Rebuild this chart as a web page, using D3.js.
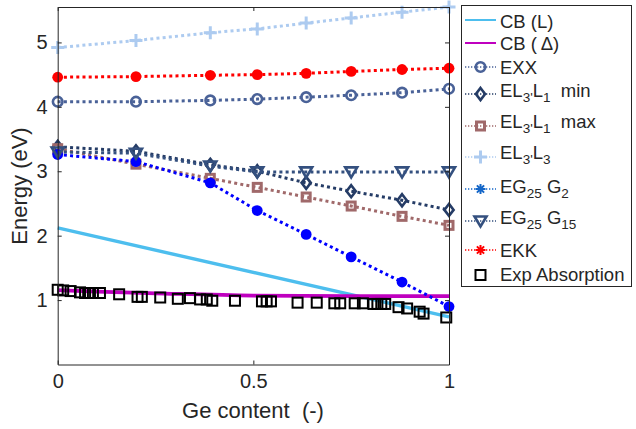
<!DOCTYPE html>
<html>
<head>
<meta charset="utf-8">
<script src="https://cdn.jsdelivr.net/npm/d3@7"></script>
<style>
  body { margin: 0; background: #fff; }
  text { font-family: "Liberation Sans", Arial, Helvetica, sans-serif; fill: #262626; }
</style>
</head>
<body>
<svg id="chart" width="636" height="429"></svg>
<script>
// Ge content of the computed points (SiGe alloy)
const geContent = [0, 0.2, 0.39, 0.51, 0.635, 0.75, 0.88, 1];

// Computed transition energies (eV)
const exx     = [4.08, 4.08, 4.10, 4.12, 4.15, 4.18, 4.22, 4.28];
const el3l1Min = [3.38, 3.31, 3.10, 3.00, 2.82, 2.69, 2.55, 2.40];
const el3l1Max = [3.35, 3.11, 2.89, 2.75, 2.60, 2.46, 2.30, 2.16];
const el3l3   = [4.92, 5.03, 5.15, 5.21, 5.30, 5.38, 5.47, 5.55];
const eg25g2  = [3.26, 3.15, 2.82, 2.39, 2.02, 1.67, 1.28, 0.90];
const eg25g15 = [3.30, 3.28, 3.08, 2.99, 2.99, 2.99, 2.99, 2.99];
const ekk     = [4.46, 4.47, 4.49, 4.50, 4.52, 4.55, 4.58, 4.60];

// Conduction band minima
const cbLx = [0, 1];
const cbLy = [2.12, 0.74];
const cbDx = [0, 0.1, 0.25, 0.5, 0.75, 1];
const cbDy = [1.155, 1.13, 1.105, 1.07, 1.062, 1.06];

// Measured absorption edge
const expX = [0.000, 0.014, 0.033, 0.057, 0.070, 0.078, 0.090, 0.108, 0.157, 0.204,
              0.215, 0.262, 0.307, 0.338, 0.364, 0.381, 0.395, 0.453, 0.522, 0.534,
              0.545, 0.613, 0.662, 0.707, 0.722, 0.759, 0.780, 0.807, 0.817, 0.827,
              0.837, 0.871, 0.893, 0.925, 0.935, 0.993];
const expY = [1.16, 1.15, 1.14, 1.12, 1.11, 1.11, 1.11, 1.11, 1.09, 1.05,
              1.05, 1.04, 1.02, 1.03, 1.01, 1.01, 0.99, 0.99, 0.98, 0.98,
              0.98, 0.96, 0.96, 0.95, 0.95, 0.95, 0.95, 0.94, 0.94, 0.94,
              0.94, 0.89, 0.87, 0.82, 0.79, 0.73];

// Axis ticks
const xTicks = [0, 0.5, 1];
const yTicks = [1, 2, 3, 4, 5];

const svg = d3.select("#chart");
const x = d3.scaleLinear().domain([0, 1]).range([57.7, 449]);
const y = d3.scaleLinear().domain([0, 5.55]).range([364.5, 7]);

const axisColor = "#262626";

// ---------- marker shapes ----------
function marker(g, type, color, cx, cy, legend) {
  const m = g.append("g").attr("transform", `translate(${cx},${cy})`);
  switch (type) {
    case "circle":
      m.append("circle").attr("r", 4.8).attr("fill", "none")
        .attr("stroke", color).attr("stroke-width", 2.6);
      break;
    case "diamond":
      m.append("path").attr("d", "M0,-6 L4.6,0 L0,6 L-4.6,0Z").attr("fill", "none")
        .attr("stroke", color).attr("stroke-width", 2.6).attr("stroke-linejoin", "miter");
      break;
    case "square":
      m.append("rect").attr("x", -4).attr("y", -4).attr("width", 8).attr("height", 8)
        .attr("fill", "none").attr("stroke", color).attr("stroke-width", 3);
      break;
    case "plus":
      m.append("path").attr("d", "M-6.5,0H6.5M0,-6.5V6.5").attr("fill", "none")
        .attr("stroke", color).attr("stroke-width", 3);
      break;
    case "tri":
      m.append("path").attr("d", "M-6,-4.5 L6,-4.5 L0,5.5Z").attr("fill", "none")
        .attr("stroke", color).attr("stroke-width", 2.6).attr("stroke-linejoin", "miter");
      break;
    case "star":
      if (legend) {
        m.append("path")
          .attr("d", "M-5,0H5M0,-5V5M-3.6,-3.6L3.6,3.6M-3.6,3.6L3.6,-3.6")
          .attr("fill", "none").attr("stroke", color).attr("stroke-width", 2);
      } else {
        m.append("circle").attr("r", 5.4).attr("fill", color);
      }
      break;
    case "open":
      m.append("rect").attr("x", -5).attr("y", -5).attr("width", 10).attr("height", 10)
        .attr("fill", "none").attr("stroke", "#000").attr("stroke-width", 2);
      break;
  }
}

// ---------- series ----------
const series = [
  { name: [["CB (L)"]], color: "#4DBEEE", solid: true, width: 3.4, xs: cbLx, ys: cbLy },
  { name: [["CB (\u2009\u0394)"]], color: "#BF00BF", solid: true, width: 3.8, xs: cbDx, ys: cbDy },
  { name: [["EXX"]], color: "#4A6298", marker: "circle", xs: geContent, ys: exx },
  { name: [["EL"], ["3'", 1], ["L"], ["1", 1], ["  min"]], color: "#253C66", marker: "diamond", xs: geContent, ys: el3l1Min },
  { name: [["EL"], ["3'", 1], ["L"], ["1", 1], ["  max"]], color: "#A0696A", marker: "square", xs: geContent, ys: el3l1Max },
  { name: [["EL"], ["3'", 1], ["L"], ["3", 1]], color: "#ADCBF0", marker: "plus", xs: geContent, ys: el3l3 },
  { name: [["EG"], ["25", 1], [" G"], ["2", 1]], color: "#0000FF", marker: "star", xs: geContent, ys: eg25g2, legendColor: "#1466C8" },
  { name: [["EG"], ["25", 1], [" G"], ["15", 1]], color: "#34507F", marker: "tri", xs: geContent, ys: eg25g15 },
  { name: [["EKK"]], color: "#FF0000", marker: "star", xs: geContent, ys: ekk },
  { name: [["Exp Absorption"]], color: "#000", marker: "open", noLine: true, xs: expX, ys: expY }
];

const plot = svg.append("g");
series.forEach(s => {
  const pts = s.xs.map((v, i) => [v, s.ys[i]]);
  if (!s.noLine) {
    const line = d3.line().x(d => x(d[0])).y(d => y(d[1]));
    if (s.solid) line.curve(d3.curveMonotoneX);
    plot.append("path").datum(pts).attr("d", line).attr("fill", "none")
      .attr("stroke", s.color)
      .attr("stroke-width", s.solid ? s.width : 3)
      .attr("stroke-dasharray", s.solid ? null : "3,3.2");
  }
  if (s.marker) {
    pts.forEach(p => marker(plot, s.marker, s.color, x(p[0]), y(p[1]), false));
  }
});

// ---------- axes (boxed, ticks pointing inward) ----------
const fmt = d => d3.format("")(d);
const axB = svg.append("g").attr("transform", "translate(0,364.5)")
  .call(d3.axisBottom(x).tickValues(xTicks).tickSizeInner(-4).tickSizeOuter(0).tickPadding(9).tickFormat(fmt));
const axT = svg.append("g").attr("transform", "translate(0,7)")
  .call(d3.axisTop(x).tickValues(xTicks).tickSizeInner(-4).tickSizeOuter(0).tickFormat(""));
const axL = svg.append("g").attr("transform", "translate(57.7,0)")
  .call(d3.axisLeft(y).tickValues(yTicks).tickSizeInner(-4).tickSizeOuter(0).tickPadding(10).tickFormat(fmt));
const axR = svg.append("g").attr("transform", "translate(449,0)")
  .call(d3.axisRight(y).tickValues(yTicks).tickSizeInner(-4).tickSizeOuter(0).tickFormat(""));
[axB, axT, axL, axR].forEach(a => {
  a.selectAll("path.domain").attr("stroke", axisColor).attr("stroke-width", 1);
  a.selectAll("line").attr("stroke", axisColor).attr("stroke-width", 1);
  a.selectAll("text").attr("font-size", 20).attr("fill", axisColor)
    .style("font-family", '"Liberation Sans", Arial, sans-serif');
});

svg.append("text").attr("x", 253).attr("y", 418).attr("text-anchor", "middle")
  .attr("font-size", 22).style("white-space", "pre").text("Ge content  (-)");
svg.append("text").attr("transform", "translate(27,186) rotate(-90)")
  .attr("text-anchor", "middle").attr("font-size", 22).text("Energy (eV)");

// ---------- legend ----------
const lg = svg.append("g");
lg.append("rect").attr("x", 461.5).attr("y", 5.5).attr("width", 170).attr("height", 281)
  .attr("fill", "#fff").attr("stroke", axisColor).attr("stroke-width", 1);
const rowLine = [20, 43, 67, 94, 126, 157, 189, 221, 250, 275];
const rowBase = [28, 50, 74, 97, 128, 159, 193, 224, 257, 281];
series.forEach((s, i) => {
  const ly = rowLine[i];
  const c = s.legendColor || s.color;
  if (!s.noLine) {
    lg.append("line").attr("x1", 465).attr("x2", 496).attr("y1", ly).attr("y2", ly)
      .attr("stroke", s.solid ? s.color : c)
      .attr("stroke-width", s.solid ? 2 : 1.3)
      .attr("stroke-dasharray", s.solid ? null : "1.3,1.7");
  }
  if (s.marker) marker(lg, s.marker, c, 480.5, ly, true);
  const t = lg.append("text").attr("x", 500).attr("y", rowBase[i])
    .attr("font-size", 18.5).style("white-space", "pre");
  let shifted = false;
  s.name.forEach(part => {
    const sub = part[1] === 1;
    const ts = t.append("tspan").text(part[0]);
    if (sub) {
      ts.attr("font-size", 13.5).attr("dy", shifted ? 0 : 5);
      shifted = true;
    } else {
      if (shifted) ts.attr("dy", -5);
      shifted = false;
    }
  });
});
</script>
</body>
</html>
